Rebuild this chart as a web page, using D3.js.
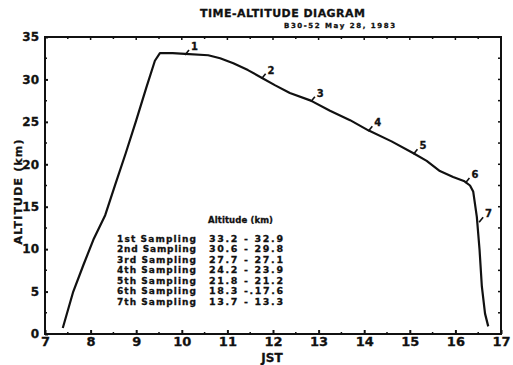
<!DOCTYPE html>
<html>
<head>
<meta charset="utf-8">
<script src="https://cdn.jsdelivr.net/npm/d3@7/dist/d3.min.js"></script>
<style>
  html, body { margin: 0; padding: 0; background: #fff; }
  svg { display: block; }
  text { font-family: "DejaVu Sans", sans-serif; font-weight: bold; fill: #111; stroke: #111; stroke-width: 0.3px; }
</style>
</head>
<body>
<svg id="chart" width="513" height="365"></svg>
<script>
// Flight path: time (JST hours) and altitude (km)
const flightTime = [7.39, 7.62, 7.84, 8.06, 8.32, 8.54, 8.77, 8.99, 9.22, 9.41, 9.52,
                    9.80, 10.07, 10.58, 10.84, 11.13, 11.45, 11.75, 12.05, 12.37, 12.83, 13.25,
                    13.69, 14.09, 14.60, 15.08, 15.37, 15.66, 15.95, 16.20, 16.32, 16.39,
                    16.47, 16.53, 16.58, 16.65, 16.72];
const flightAlt  = [0.7, 5.0, 8.1, 11.1, 14.0, 17.6, 21.3, 25.0, 29.0, 32.2, 33.1,
                    33.1, 33.0, 32.85, 32.5, 31.9, 31.1, 30.2, 29.3, 28.4, 27.5, 26.3,
                    25.2, 24.0, 22.7, 21.3, 20.4, 19.2, 18.5, 18.0, 17.5, 16.8,
                    13.8, 9.9, 5.6, 2.4, 0.9];

// Sampling markers along the path
const sampleNo   = ["1", "2", "3", "4", "5", "6", "7"];
const sampleTime = [10.07, 11.75, 12.83, 14.09, 15.08, 16.22, 16.52];
const sampleAlt  = [33.0, 30.2, 27.5, 24.0, 21.3, 17.9, 13.3];

// Sampling table
const sampleNames  = ["1st Sampling", "2nd Sampling", "3rd Sampling", "4th Sampling",
                      "5th Sampling", "6th Sampling", "7th Sampling"];
const sampleRanges = ["33.2 - 32.9", "30.6 - 29.8", "27.7 - 27.1", "24.2 - 23.9",
                      "21.8 - 21.2", "18.3 -.17.6", "13.7 - 13.3"];

// Axis ticks
const xTicks = [7, 8, 9, 10, 11, 12, 13, 14, 15, 16, 17];
const yTicks = [0, 5, 10, 15, 20, 25, 30, 35];

const svg = d3.select("#chart");
const plotL = 45, plotR = 501, plotT = 37, plotB = 334;

const x = d3.scaleLinear().domain([7, 17]).range([plotL, plotR]);
const y = d3.scaleLinear().domain([0, 35]).range([plotB, plotT]);

const halfHours = d3.range(7, 17.01, 0.5);
const quarterKm = d3.range(0, 35.01, 2.5);

// Frame
svg.append("rect")
  .attr("x", plotL).attr("y", plotT)
  .attr("width", plotR - plotL).attr("height", plotB - plotT)
  .attr("fill", "none").attr("stroke", "#111").attr("stroke-width", 2);

// Bottom axis: hour labels, ticks pointing inward
const gx = svg.append("g").attr("transform", `translate(0,${plotB})`)
  .call(d3.axisBottom(x).tickValues(xTicks).tickFormat(d3.format("d"))
        .tickSizeInner(-4).tickSizeOuter(0).tickPadding(3));
gx.select(".domain").remove();
gx.selectAll(".tick line").attr("stroke", "#111").attr("stroke-width", 2);
gx.selectAll(".tick text").attr("font-size", 13).style("font-weight", "bold");

svg.append("g").selectAll("line").data(halfHours.filter(d => d % 1 !== 0)).join("line")
  .attr("x1", d => x(d)).attr("x2", d => x(d))
  .attr("y1", plotB).attr("y2", plotB - 2)
  .attr("stroke", "#111").attr("stroke-width", 1.5);

// Top edge ticks every half hour
svg.append("g").selectAll("line").data(halfHours).join("line")
  .attr("x1", d => x(d)).attr("x2", d => x(d))
  .attr("y1", plotT).attr("y2", d => plotT + (d % 1 === 0 ? 3 : 2))
  .attr("stroke", "#111").attr("stroke-width", 1.5);

// Left axis: km labels, ticks pointing inward
const gy = svg.append("g").attr("transform", `translate(${plotL},0)`)
  .call(d3.axisLeft(y).tickValues(yTicks).tickFormat(d3.format("d"))
        .tickSizeInner(-3).tickSizeOuter(0).tickPadding(6));
gy.select(".domain").remove();
gy.selectAll(".tick line").attr("stroke", "#111").attr("stroke-width", 2);
gy.selectAll(".tick text").attr("font-size", 12).style("font-weight", "bold");

svg.append("g").selectAll("line").data(quarterKm.filter(d => d % 5 !== 0)).join("line")
  .attr("x1", plotL).attr("x2", plotL + 2)
  .attr("y1", d => y(d)).attr("y2", d => y(d))
  .attr("stroke", "#111").attr("stroke-width", 1.5);

// Right edge ticks every 2.5 km
svg.append("g").selectAll("line").data(quarterKm).join("line")
  .attr("x1", plotR).attr("x2", plotR - 3)
  .attr("y1", d => y(d)).attr("y2", d => y(d))
  .attr("stroke", "#111").attr("stroke-width", 1.5);

// Flight path
const path = flightTime.map((t, i) => [t, flightAlt[i]]);
svg.append("path")
  .datum(path)
  .attr("d", d3.line().x(d => x(d[0])).y(d => y(d[1])))
  .attr("fill", "none").attr("stroke", "#111")
  .attr("stroke-width", 2.2).attr("stroke-linejoin", "round");

// Sampling markers with numbers
const marks = svg.append("g").selectAll("g").data(sampleNo).join("g")
  .attr("transform", (d, i) => `translate(${x(sampleTime[i])},${y(sampleAlt[i])})`);
marks.append("line")
  .attr("x1", 0).attr("y1", 1).attr("x2", 4).attr("y2", -4)
  .attr("stroke", "#111").attr("stroke-width", 1.6);
marks.append("text")
  .attr("x", 6).attr("y", -4)
  .attr("font-size", 10)
  .text(d => d);

// Sampling table
svg.append("text")
  .attr("x", 208).attr("y", 223)
  .attr("font-size", 8.5).attr("textLength", 65)
  .text("Altitude (km)");

const rows = svg.append("g").selectAll("g").data(sampleNames).join("g")
  .attr("transform", (d, i) => `translate(0,${241.5 + i * 10.5})`);
rows.append("text")
  .attr("x", 117).attr("y", 0)
  .attr("font-size", 9).attr("textLength", 79)
  .text(d => d);
rows.append("text")
  .attr("x", 209).attr("y", 0)
  .attr("font-size", 9.5).attr("textLength", 74)
  .text((d, i) => sampleRanges[i]);

// Titles
svg.append("text")
  .attr("x", 200).attr("y", 17)
  .attr("font-size", 11).attr("textLength", 165)
  .text("TIME-ALTITUDE DIAGRAM");
svg.append("text")
  .attr("x", 284).attr("y", 27.5)
  .attr("font-size", 7).attr("textLength", 111)
  .text("B30-52  May 28, 1983");

// Axis titles
svg.append("text")
  .attr("x", 272).attr("y", 362)
  .attr("text-anchor", "middle")
  .attr("font-size", 12)
  .text("JST");
svg.append("text")
  .attr("transform", "translate(22,192) rotate(-90)")
  .attr("text-anchor", "middle")
  .attr("font-size", 11).attr("textLength", 105)
  .text("ALTITUDE (km)");
</script>
</body>
</html>
